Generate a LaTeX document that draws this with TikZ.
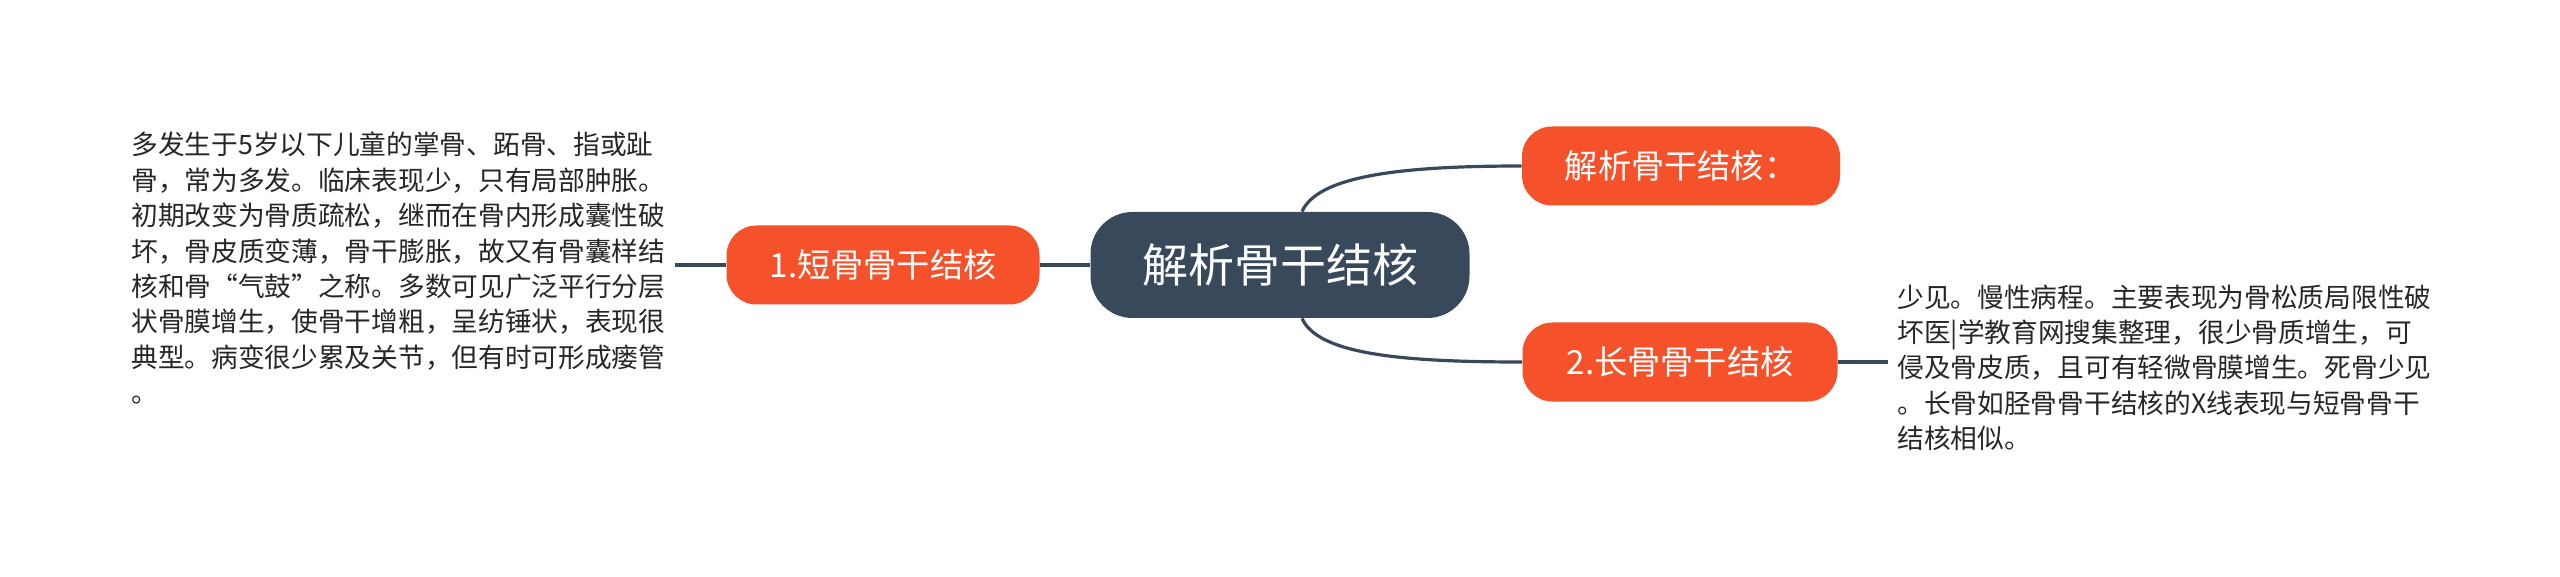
\documentclass[tikz,border=0pt]{standalone}
\usepackage{fontspec}
\setmainfont{Noto Sans CJK SC}
\definecolor{ardoise}{HTML}{37495A}
\definecolor{corail}{HTML}{F5522B}
\begin{document}
\begin{tikzpicture}[x=0.5pt,y=-0.5pt]
	% Styles
	\tikzstyle{lien}=[-,draw=ardoise,line width=1.6pt]
	\tikzstyle{racine}=[fill=ardoise,text=white,rounded corners=21pt,minimum width=189.5pt,minimum height=53pt,font=\fontsize{23pt}{27pt}\selectfont]
	\tikzstyle{branche}=[fill=corail,text=white,rounded corners=15pt,minimum height=39.5pt,font=\fontsize{16.6pt}{20pt}\selectfont]
	\tikzstyle{texte}=[anchor=base west,inner sep=0pt,align=left,text width=300pt,text=black!85,font=\fontsize{13.35pt}{17.7pt}\selectfont]
	% Cadre
	\useasboundingbox (0,0) rectangle (2560,577);
	% Noeuds
	\node[racine] (root) at (1280,265) {解析骨干结核};
	\node[branche,minimum width=159pt] (titre) at (1681,166) {解析骨干结核：};
	\node[branche,minimum width=157.5pt] (long) at (1680,362) {2.长骨骨干结核};
	\node[branche,minimum width=156.5pt] (court) at (883,265) {1.短骨骨干结核};
	\node[texte] (txtCourt) at (131,155) {多发生于5岁以下儿童的掌骨、跖骨、指或趾\\
骨，常为多发。临床表现少，只有局部肿胀。\\
初期改变为骨质疏松，继而在骨内形成囊性破\\
坏，骨皮质变薄，骨干膨胀，故又有骨囊样结\\
核和骨“气鼓”之称。多数可见广泛平行分层\\
状骨膜增生，使骨干增粗，呈纺锤状，表现很\\
典型。病变很少累及关节，但有时可形成瘘管\\
。};
	\node[texte] (txtLong) at (1897,307) {少见。慢性病程。主要表现为骨松质局限性破\\
坏医|学教育网搜集整理，很少骨质增生，可\\
侵及骨皮质，且可有轻微骨膜增生。死骨少见\\
。长骨如胫骨骨干结核的X线表现与短骨骨干\\
结核相似。};
	\coordinate (bCourt) at (675,265);
	\coordinate (bLong) at (1888,362);
	% Arcs
	\draw[lien] (root.west) -- (court.east);
	\draw[lien] (court.west) -- (bCourt);
	\draw[lien] ([xshift=11pt]root.north) .. controls +(8pt,18pt) and +(-60pt,0pt) .. (titre.west);
	\draw[lien] ([xshift=11pt]root.south) .. controls +(8pt,-18pt) and +(-60pt,0pt) .. (long.west);
	\draw[lien] (long.east) -- (bLong);
\end{tikzpicture}
\end{document}
